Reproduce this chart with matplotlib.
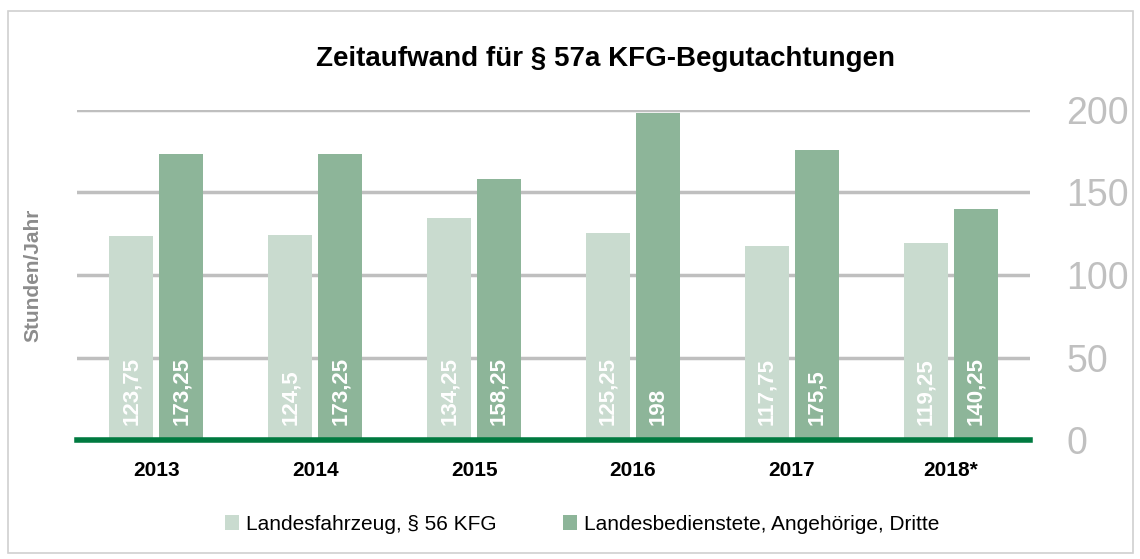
import numpy as np
import matplotlib.pyplot as plt
from matplotlib.patches import Rectangle

plt.rcParams['font.family'] = ['Liberation Sans', 'DejaVu Sans']

# Data
years = ['2013', '2014', '2015', '2016', '2017', '2018*']
landesfahrzeug = [123.75, 124.5, 134.25, 125.25, 117.75, 119.25]
landesbedienstete = [173.25, 173.25, 158.25, 198, 175.5, 140.25]
series_names = ['Landesfahrzeug, § 56 KFG', 'Landesbedienstete, Angehörige, Dritte']
y_ticks = [0, 50, 100, 150, 200]

light = '#c9dbcf'
dark = '#8db599'
grid_col = '#bfbfbf'
base_col = '#007a40'


def fmt(v):
    s = ('%.2f' % v).rstrip('0').rstrip('.')
    return s.replace('.', ',')


fig = plt.figure(figsize=(11.4, 5.59), dpi=100)
fig.patches.append(Rectangle((8 / 1140, 6 / 559), 1125 / 1140, 542 / 559,
                             transform=fig.transFigure, fill=False,
                             edgecolor='#d0d0d0', linewidth=1.2))

ax = fig.add_axes([77 / 1140, 1 - 440 / 559, 953 / 1140, 330 / 559])

x = np.arange(len(years))
w = 0.277
off = 0.157
b1 = ax.bar(x - off, landesfahrzeug, w, color=light, label=series_names[0], zorder=3)
b2 = ax.bar(x + off, landesbedienstete, w, color=dark, label=series_names[1], zorder=3)

for bars, vals in ((b1, landesfahrzeug), (b2, landesbedienstete)):
    for rect, v in zip(bars, vals):
        ax.annotate(fmt(v), (rect.get_x() + rect.get_width() / 2, 0),
                    xytext=(0, 11), textcoords='offset points',
                    rotation=90, ha='center', va='bottom', color='white',
                    fontsize=16, fontweight='bold', zorder=4)

ax.set_xlim(-0.5, len(years) - 0.5)
ax.set_ylim(0, 200)
ax.set_yticks(y_ticks)
ax.yaxis.tick_right()
ax.tick_params(axis='y', length=0, pad=26, labelsize=27, labelcolor='#c0c0c0')
ax.set_xticks(x)
ax.set_xticklabels(years, fontsize=15, fontweight='bold')
ax.tick_params(axis='x', length=0, pad=15)
ax.grid(axis='y', color=grid_col, linewidth=2.5, zorder=0)
for s in ax.spines.values():
    s.set_visible(False)
ax.axhline(0, color=base_col, linewidth=4, zorder=5, clip_on=False)

fig.text(33 / 1140, 1 - 275 / 559, 'Stunden/Jahr', rotation=90, ha='center', va='center',
         fontsize=15, fontweight='bold', color='#8c8c8c')
fig.text(605 / 1140, 1 - 59 / 559, 'Zeitaufwand für § 57a KFG-Begutachtungen',
         ha='center', va='center', fontsize=20, fontweight='bold')

fig.legend(handles=[b1, b2], loc='center', bbox_to_anchor=(582 / 1140, 1 - 524 / 559),
           ncol=2, frameon=False, fontsize=15, handlelength=0.7, handleheight=0.7,
           handletextpad=0.3, columnspacing=3.2)

fig.savefig('out.png', dpi=100)
